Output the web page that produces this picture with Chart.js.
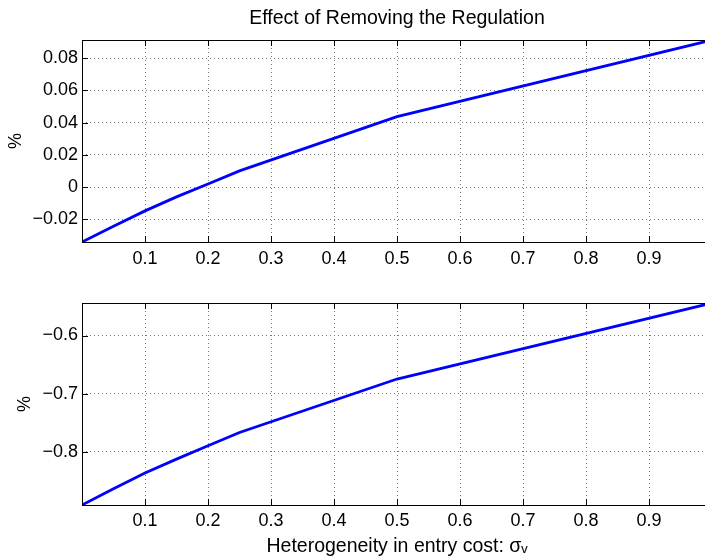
<!DOCTYPE html>
<html><head><meta charset="utf-8">
<script src="https://cdn.jsdelivr.net/npm/chart.js@4/dist/chart.umd.min.js"></script>
<style>
html,body{margin:0;padding:0;overflow:hidden;background:#fff;width:705px;height:559px}
#wrap{position:relative;width:705px;height:559px;overflow:hidden;background:#fff}
canvas{position:absolute;left:0}
</style></head><body>
<div id="wrap">
<canvas id="c1" width="740" height="280" style="top:0"></canvas>
<canvas id="c2" width="740" height="279" style="top:280px"></canvas>
</div>
<script>
// ---- data ----
const sigmaV = [0, 0.05, 0.1, 0.15, 0.2, 0.25, 0.5, 1];
const topValues = [-0.034, -0.0243, -0.0147, -0.0060, 0.0020, 0.0101, 0.0438, 0.0913];
const bottomValues = [-0.892, -0.864, -0.837, -0.813, -0.790, -0.767, -0.675, -0.544];
const xTicks = [0, 0.1, 0.2, 0.3, 0.4, 0.5, 0.6, 0.7, 0.8, 0.9, 1];
const xTickLabels = ['', '0.1', '0.2', '0.3', '0.4', '0.5', '0.6', '0.7', '0.8', '0.9', '1'];
const topYTicks = [-0.02, 0, 0.02, 0.04, 0.06, 0.08];
const topYTickLabels = ['\u22120.02', '0', '0.02', '0.04', '0.06', '0.08'];
const bottomYTicks = [-0.8, -0.7, -0.6];
const bottomYTickLabels = ['\u22120.8', '\u22120.7', '\u22120.6'];
const topRange = [-0.034, 0.0913];
const bottomRange = [-0.892, -0.544];
const titleText = 'Effect of Removing the Regulation';
const xTitle = 'Heterogeneity in entry cost: \u03c3\u1d65';
const yTitle = '%';

Chart.defaults.font.family = "'Liberation Sans', Arial, Helvetica, sans-serif";
Chart.defaults.font.size = 18;
Chart.defaults.color = '#000';

const boxPlugin = {
  id: 'matlabBox',
  afterDraw(chart) {
    const {ctx, chartArea: a, scales} = chart;
    ctx.save();
    ctx.strokeStyle = '#000';
    ctx.lineWidth = 1;
    ctx.setLineDash([]);
    const L = 6;
    ctx.beginPath();
    scales.x.ticks.forEach(t => {
      const px = Math.round(scales.x.getPixelForValue(t.value)) + 0.5;
      if (px <= a.left + 1 || px >= a.right - 1) return;
      ctx.moveTo(px, a.bottom); ctx.lineTo(px, a.bottom - L);
      ctx.moveTo(px, a.top); ctx.lineTo(px, a.top + L);
    });
    scales.y.ticks.forEach(t => {
      const py = Math.round(scales.y.getPixelForValue(t.value)) + 0.5;
      if (py <= a.top + 1 || py >= a.bottom - 1) return;
      ctx.moveTo(a.left, py); ctx.lineTo(a.left + L, py);
      ctx.moveTo(a.right, py); ctx.lineTo(a.right - L, py);
    });
    ctx.stroke();
    ctx.strokeRect(Math.round(a.left) + 0.5, Math.round(a.top) + 0.5,
                   Math.round(a.right - a.left), Math.round(a.bottom - a.top));
    ctx.restore();
  }
};

function makeChart(id, values, range, yTicks, yLabels, opts) {
  const pts = sigmaV.map((x, i) => ({x, y: values[i]}));
  return new Chart(document.getElementById(id), {
    type: 'line',
    data: {datasets: [{
      data: pts, borderColor: '#0000ff', borderWidth: 2.8,
      pointRadius: 0, tension: 0, fill: false
    }]},
    options: {
      responsive: false, animation: false,
      layout: {padding: {left: 0, right: 28, top: opts.padTop, bottom: 0}},
      plugins: {
        legend: {display: false}, tooltip: {enabled: false},
        title: opts.title ? {
          display: true, text: titleText, fullSize: false,
          font: {size: 19.5, weight: 'normal'}, color: '#000',
          padding: {top: 7, bottom: 9.6}
        } : {display: false}
      },
      scales: {
        x: {
          type: 'linear', min: 0, max: 1,
          afterBuildTicks: s => { s.ticks = xTicks.map(v => ({value: v})); },
          afterFit: s => { s.height = opts.xHeight; },
          ticks: {
            padding: opts.xPad, maxRotation: 0, autoSkip: false,
            callback: (v, i) => xTickLabels[xTicks.indexOf(v)] ?? ''
          },
          grid: {color: '#7a7a7a', lineWidth: 1, drawTicks: false},
          border: {display: false, dash: [1, 3]},
          title: opts.xTitle ? {
            display: true, text: xTitle, font: {size: 19.5}, color: '#000',
            padding: {top: 0, bottom: 0.5}
          } : {display: false}
        },
        y: {
          type: 'linear', min: range[0], max: range[1],
          afterBuildTicks: s => { s.ticks = yTicks.map(v => ({value: v})); },
          afterFit: s => { s.width = 82; },
          ticks: {
            padding: 4, autoSkip: false,
            callback: (v) => yLabels[yTicks.indexOf(v)] ?? ''
          },
          grid: {color: '#7a7a7a', lineWidth: 1, drawTicks: false},
          border: {display: false, dash: [1, 3]},
          title: {
            display: true, text: yTitle, font: {size: 18}, color: '#000',
            padding: {top: opts.yTitlePad, bottom: 0}
          }
        }
      }
    },
    plugins: [boxPlugin]
  });
}

makeChart('c1', topValues, topRange, topYTicks, topYTickLabels,
  {title: true, padTop: 0, xHeight: 38, xPad: 6, xTitle: false, yTitlePad: 5});
makeChart('c2', bottomValues, bottomRange, bottomYTicks, bottomYTickLabels,
  {title: false, padTop: 23, xHeight: 54, xPad: 5, xTitle: true, yTitlePad: 14.5});
</script>
</body></html>
